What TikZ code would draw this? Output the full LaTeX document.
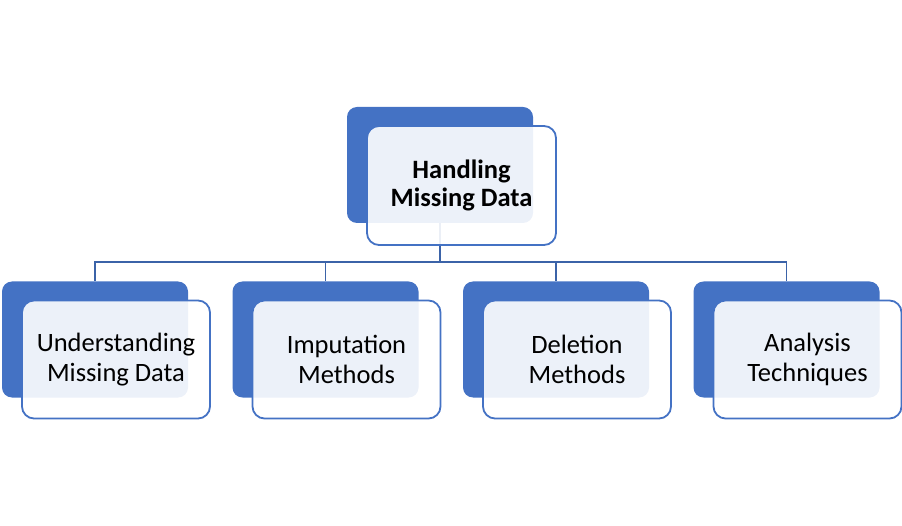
\documentclass[tikz,border=0pt]{standalone}
\usepackage{fontspec}
\setmainfont{Carlito}
\definecolor{accent}{HTML}{4472C4}
\definecolor{connc}{HTML}{3B63A8}
\begin{document}
\begin{tikzpicture}[x=1pt,y=-1pt,
  backbox/.style={fill=accent, rounded corners=10pt, minimum width=186pt, minimum height=116pt, inner sep=0pt},
  frontbox/.style={draw=accent, line width=1.8pt, fill=white, fill opacity=0.9, text opacity=1, rounded corners=12pt, minimum width=188pt, minimum height=118pt, inner sep=0pt, align=center},
  topfont/.style={font=\fontsize{26.5}{28}\selectfont\bfseries},
  subfont/.style={font=\fontsize{26.5}{30}\selectfont},
  connector/.style={draw=connc, line width=1.8pt}]
\useasboundingbox (0,0) rectangle (902,526);
% back boxes
\node[backbox] (topback) at (440,165) {};
\node[backbox] (b1) at (95,339.5) {};
\node[backbox] (b2) at (325.5,339.5) {};
\node[backbox] (b3) at (556,339.5) {};
\node[backbox] (b4) at (786.5,339.5) {};
% connectors
\coordinate (j) at (440,262);
\draw[connector] (topback.south) -- (j);
\draw[connector] (j) -| (b1.north);
\draw[connector] (j) -| (b2.north);
\draw[connector] (j) -| (b3.north);
\draw[connector] (j) -| (b4.north);
% front boxes
\node[frontbox, topfont, minimum width=189pt, minimum height=119pt] (topfront) at (461.5,185.5) {Handling\\Missing Data};
\node[frontbox, subfont] (f1) at (116,359.5) {Understanding\\Missing Data};
\node[frontbox, subfont] (f2) at (346.5,359.5) {Imputation\\Methods};
\node[frontbox, subfont] (f3) at (577,359.5) {Deletion\\Methods};
\node[frontbox, subfont] (f4) at (807.5,359.5) {Analysis\\Techniques};
\end{tikzpicture}
\end{document}
